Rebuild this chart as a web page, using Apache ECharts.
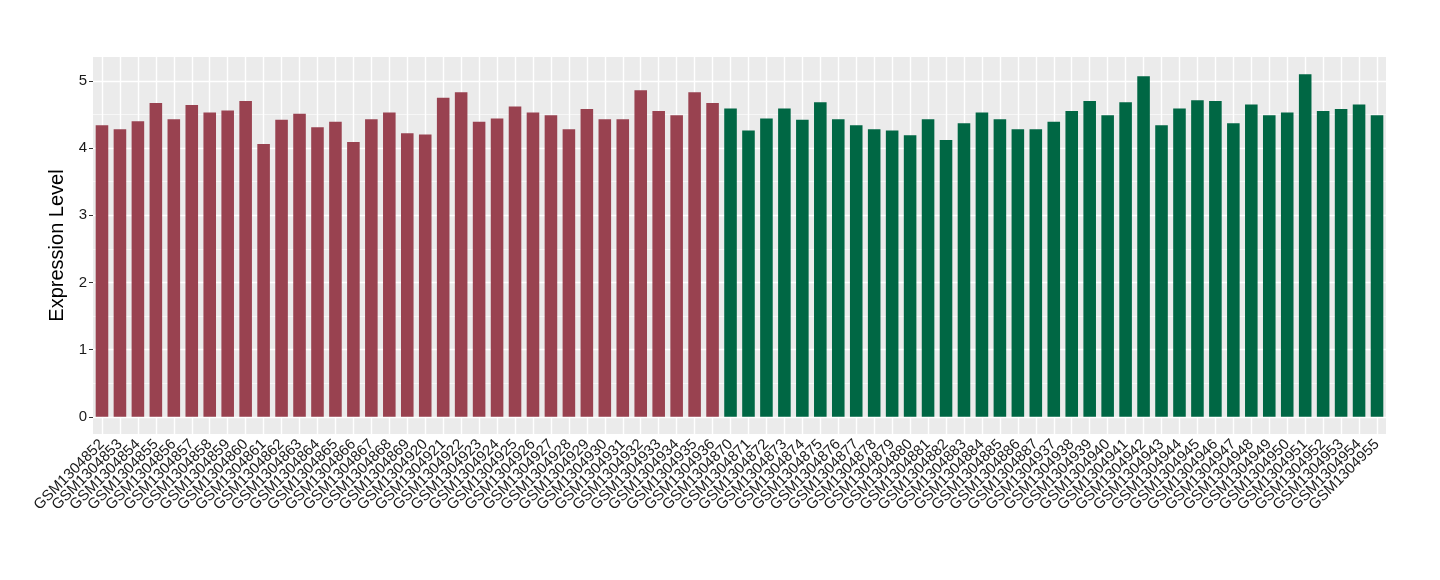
<!DOCTYPE html>
<html><head><meta charset="utf-8">
<script src="https://cdn.jsdelivr.net/npm/echarts@6/dist/echarts.min.js"></script>
<style>html,body{margin:0;padding:0;background:#fff}#c{width:1440px;height:580px}</style>
</head><body><div id="c"></div>
<script>
const redCats = ['GSM1304852','GSM1304853','GSM1304854','GSM1304855','GSM1304856','GSM1304857','GSM1304858','GSM1304859','GSM1304860','GSM1304861','GSM1304862','GSM1304863','GSM1304864','GSM1304865','GSM1304866','GSM1304867','GSM1304868','GSM1304869','GSM1304920','GSM1304921','GSM1304922','GSM1304923','GSM1304924','GSM1304925','GSM1304926','GSM1304927','GSM1304928','GSM1304929','GSM1304930','GSM1304931','GSM1304932','GSM1304933','GSM1304934','GSM1304935','GSM1304936'];
const redValues = [4.34,4.28,4.40,4.67,4.43,4.64,4.53,4.56,4.70,4.06,4.42,4.51,4.31,4.39,4.09,4.43,4.53,4.22,4.20,4.75,4.83,4.39,4.44,4.62,4.53,4.49,4.28,4.58,4.43,4.43,4.86,4.55,4.49,4.83,4.67];
const greenCats = ['GSM1304870','GSM1304871','GSM1304872','GSM1304873','GSM1304874','GSM1304875','GSM1304876','GSM1304877','GSM1304878','GSM1304879','GSM1304880','GSM1304881','GSM1304882','GSM1304883','GSM1304884','GSM1304885','GSM1304886','GSM1304887','GSM1304937','GSM1304938','GSM1304939','GSM1304940','GSM1304941','GSM1304942','GSM1304943','GSM1304944','GSM1304945','GSM1304946','GSM1304947','GSM1304948','GSM1304949','GSM1304950','GSM1304951','GSM1304952','GSM1304953','GSM1304954','GSM1304955'];
const greenValues = [4.59,4.26,4.44,4.59,4.42,4.68,4.43,4.34,4.28,4.26,4.19,4.43,4.12,4.37,4.53,4.43,4.28,4.28,4.39,4.55,4.70,4.49,4.68,5.07,4.34,4.59,4.71,4.70,4.37,4.65,4.49,4.53,5.10,4.55,4.58,4.65,4.49];
const yTicks = [0,1,2,3,4,5];
const yMinor = [0.5,1.5,2.5,3.5,4.5];

const redColor = '#994250', greenColor = '#006744';
const categories = redCats.concat(greenCats);
const barData = redValues.map(v => ({value: v, itemStyle: {color: redColor}}))
  .concat(greenValues.map(v => ({value: v, itemStyle: {color: greenColor}})));

const gridLines = [];
yTicks.forEach(v => gridLines.push({yAxis: v, lineStyle: {color: '#fff', width: 1.4, type: 'solid'}}));
yMinor.forEach(v => gridLines.push({yAxis: v, lineStyle: {color: '#fff', width: 0.6, type: 'solid'}}));
categories.forEach(c => gridLines.push({xAxis: c, lineStyle: {color: '#fff', width: 1.4, type: 'solid'}}));

const chart = echarts.init(document.getElementById('c'), null, {renderer: 'canvas'});
chart.setOption({
  animation: false,
  backgroundColor: '#fff',
  grid: {left: 93, right: 54, top: 57, bottom: 146, show: true, backgroundColor: '#EBEBEB', borderWidth: 0},
  xAxis: {
    type: 'category', data: categories, boundaryGap: true,
    axisLine: {show: false},
    axisTick: {show: true, alignWithLabel: true, interval: 0, length: 4, lineStyle: {color: '#333', width: 1}},
    axisLabel: {interval: 0, rotate: 45, color: '#1a1a1a', fontSize: 15, fontFamily: '"Liberation Sans", Arial, sans-serif', margin: 8},
    splitLine: {show: false}
  },
  yAxis: {
    type: 'value', min: -0.255, max: 5.355,
    name: 'Expression Level', nameLocation: 'middle', nameGap: 18,
    nameTextStyle: {fontSize: 20, color: '#000', fontFamily: '"Liberation Sans"'},
    axisLine: {show: false},
    axisTick: {show: true, customValues: yTicks, length: 4, lineStyle: {color: '#333'}},
    axisLabel: {customValues: yTicks, fontSize: 15, color: '#1a1a1a', fontFamily: '"Liberation Sans"', margin: 6},
    splitLine: {show: false}
  },
  series: [
    {type: 'line', data: [], z: 1, silent: true, symbol: 'none',
     markLine: {z: 1, silent: true, symbol: 'none', label: {show: false}, animation: false, data: gridLines}},
    {type: 'bar', data: barData, barWidth: '70%', z: 3}
  ]
});
</script></body></html>
